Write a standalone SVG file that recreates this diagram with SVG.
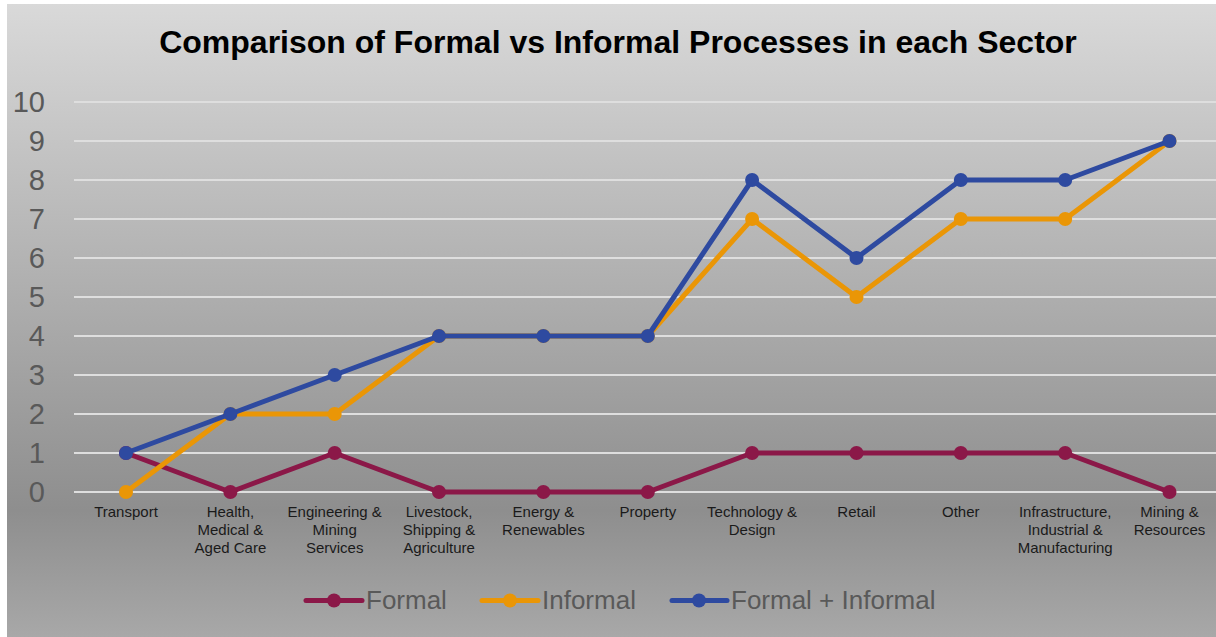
<svg xmlns="http://www.w3.org/2000/svg" width="1216" height="637" viewBox="0 0 1216 637">
<defs>
<linearGradient id="bg" x1="0" y1="0" x2="0" y2="1">
<stop offset="0" stop-color="#d9d9d9"/>
<stop offset="0.8" stop-color="#8e8e8e"/>
<stop offset="1" stop-color="#a8a8a8"/>
</linearGradient>
<marker id="mF" markerWidth="16" markerHeight="16" refX="8" refY="8" markerUnits="userSpaceOnUse"><circle cx="8" cy="8" r="7" fill="#8b1848"/></marker>
<marker id="mI" markerWidth="16" markerHeight="16" refX="8" refY="8" markerUnits="userSpaceOnUse"><circle cx="8" cy="8" r="7" fill="#ea9606"/></marker>
<marker id="mB" markerWidth="16" markerHeight="16" refX="8" refY="8" markerUnits="userSpaceOnUse"><circle cx="8" cy="8" r="7" fill="#2e4aa0"/></marker>
</defs>
<style>
.grid{stroke:#dedede;stroke-width:2}
.ytick{font-family:"Liberation Sans",Arial,sans-serif;font-size:29px;fill:#595959;text-anchor:end}
.cat{font-family:"Liberation Sans",Arial,sans-serif;font-size:15px;fill:#1a1a1a;text-anchor:middle}
.leg{font-family:"Liberation Sans",Arial,sans-serif;font-size:26px;fill:#595959}
.title{font-family:"Liberation Sans",Arial,sans-serif;font-size:32px;font-weight:bold;fill:#000;text-anchor:middle}
.s{fill:none;stroke-width:5;stroke-linejoin:round;stroke-linecap:round}
.f{stroke:#8b1848;marker-start:url(#mF);marker-mid:url(#mF);marker-end:url(#mF)}
.i{stroke:#ea9606;marker-start:url(#mI);marker-mid:url(#mI);marker-end:url(#mI)}
.b{stroke:#2e4aa0;marker-start:url(#mB);marker-mid:url(#mB);marker-end:url(#mB)}
</style>
<rect x="0" y="0" width="1216" height="637" fill="#ffffff"/>
<rect x="7" y="4" width="1209" height="633" fill="url(#bg)"/>
<text class="title" x="618" y="53">Comparison of Formal vs Informal Processes in each Sector</text>
<g id="gridlines">
<line class="grid" x1="74" y1="102" x2="1216" y2="102"/>
<line class="grid" x1="74" y1="141" x2="1216" y2="141"/>
<line class="grid" x1="74" y1="180" x2="1216" y2="180"/>
<line class="grid" x1="74" y1="219" x2="1216" y2="219"/>
<line class="grid" x1="74" y1="258" x2="1216" y2="258"/>
<line class="grid" x1="74" y1="297" x2="1216" y2="297"/>
<line class="grid" x1="74" y1="336" x2="1216" y2="336"/>
<line class="grid" x1="74" y1="375" x2="1216" y2="375"/>
<line class="grid" x1="74" y1="414" x2="1216" y2="414"/>
<line class="grid" x1="74" y1="453" x2="1216" y2="453"/>
<line class="grid" x1="74" y1="492" x2="1216" y2="492"/>
</g>
<g id="y-axis">
<text class="ytick" x="45" y="112">10</text>
<text class="ytick" x="45" y="151">9</text>
<text class="ytick" x="45" y="190">8</text>
<text class="ytick" x="45" y="229">7</text>
<text class="ytick" x="45" y="268">6</text>
<text class="ytick" x="45" y="307">5</text>
<text class="ytick" x="45" y="346">4</text>
<text class="ytick" x="45" y="385">3</text>
<text class="ytick" x="45" y="424">2</text>
<text class="ytick" x="45" y="463">1</text>
<text class="ytick" x="45" y="502">0</text>
</g>
<g id="x-axis">
<text class="cat" x="126" y="517">Transport</text>
<text class="cat" x="230.4" y="517">Health,<tspan x="230.4" dy="18">Medical &amp;</tspan><tspan x="230.4" dy="18">Aged Care</tspan></text>
<text class="cat" x="334.7" y="517">Engineering &amp;<tspan x="334.7" dy="18">Mining</tspan><tspan x="334.7" dy="18">Services</tspan></text>
<text class="cat" x="439" y="517">Livestock,<tspan x="439" dy="18">Shipping &amp;</tspan><tspan x="439" dy="18">Agriculture</tspan></text>
<text class="cat" x="543.4" y="517">Energy &amp;<tspan x="543.4" dy="18">Renewables</tspan></text>
<text class="cat" x="647.8" y="517">Property</text>
<text class="cat" x="752.1" y="517">Technology &amp;<tspan x="752.1" dy="18">Design</tspan></text>
<text class="cat" x="856.5" y="517">Retail</text>
<text class="cat" x="960.8" y="517">Other</text>
<text class="cat" x="1065.2" y="517">Infrastructure,<tspan x="1065.2" dy="18">Industrial &amp;</tspan><tspan x="1065.2" dy="18">Manufacturing</tspan></text>
<text class="cat" x="1169.5" y="517">Mining &amp;<tspan x="1169.5" dy="18">Resources</tspan></text>
</g>
<g id="connectors">
<polyline id="formal" class="s f" points="126,453 230.4,492 334.7,453 439,492 543.4,492 647.8,492 752.1,453 856.5,453 960.8,453 1065.2,453 1169.5,492"/>
<polyline id="informal" class="s i" points="126,492 230.4,414 334.7,414 439,336 543.4,336 647.8,336 752.1,219 856.5,297 960.8,219 1065.2,219 1169.5,141"/>
<polyline id="total" class="s b" points="126,453 230.4,414 334.7,375 439,336 543.4,336 647.8,336 752.1,180 856.5,258 960.8,180 1065.2,180 1169.5,141"/>
</g>
<g id="legend">
<g id="leg-formal">
<line x1="306" y1="600.5" x2="362" y2="600.5" stroke="#8b1848" stroke-width="5" stroke-linecap="round"/>
<circle cx="334" cy="600.5" r="7" fill="#8b1848"/>
<text class="leg" x="366" y="609">Formal</text>
</g>
<g id="leg-informal">
<line x1="482" y1="600.5" x2="538" y2="600.5" stroke="#ea9606" stroke-width="5" stroke-linecap="round"/>
<circle cx="510" cy="600.5" r="7" fill="#ea9606"/>
<text class="leg" x="542" y="609">Informal</text>
</g>
<g id="leg-total">
<line x1="672" y1="600.5" x2="727" y2="600.5" stroke="#2e4aa0" stroke-width="5" stroke-linecap="round"/>
<circle cx="699" cy="600.5" r="7" fill="#2e4aa0"/>
<text class="leg" x="731" y="609">Formal + Informal</text>
</g>
</g>
</svg>
